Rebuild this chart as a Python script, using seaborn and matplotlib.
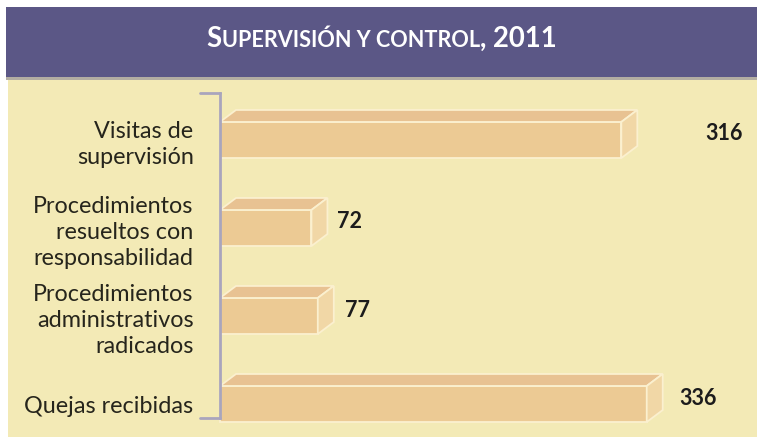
import matplotlib
matplotlib.use("Agg")
import matplotlib.pyplot as plt
import seaborn as sns
from matplotlib.patches import Rectangle, Polygon

# data
categories = ["Visitas de\nsupervisión",
              "Procedimientos\nresueltos con\nresponsabilidad",
              "Procedimientos\nadministrativos\nradicados",
              "Quejas recibidas"]
values = [316, 72, 77, 336]
title_parts = ["S", "UPERVISIÓN Y CONTROL", ", 2011"]

W, H, DPI = 757, 445, 100

purple = "#5b5786"
beige = "#f3eab6"
front = "#ecca94"
top_c = "#e8c292"
side_c = "#f1d7a6"
cream = "#fbf0cf"
spine_c = "#a9a5bd"
text_c = "#26251c"

sns.set_theme(style="white")
plt.rcParams["font.family"] = ["Lato", "DejaVu Sans"]

fig = plt.figure(figsize=(W / DPI, H / DPI), dpi=DPI)
fig.patch.set_facecolor("white")


def box(x, y, w, h):
    # pixel box with top-left origin -> figure fraction
    return [x / W, 1 - (y + h) / H, w / W, h / H]


def add_rect(x, y, w, h, color):
    b = box(x, y, w, h)
    fig.add_artist(Rectangle((b[0], b[1]), b[2], b[3], transform=fig.transFigure,
                             facecolor=color, edgecolor="none", zorder=0))


add_rect(6, 7, 751, 71, purple)
add_rect(6, 77, 751, 3, "#b3ada2")
add_rect(8, 80, 749, 357, beige)

ax = fig.add_axes(box(220, 93, 537, 325))
ax.patch.set_alpha(0)
sns.barplot(x=values, y=categories, orient="h", color=front, saturation=1,
            width=0.41, ax=ax)
ax.set_xlim(0, 537 / 1.27)
ax.set_ylim(3.159, -0.534)
ax.set_xticks([])
ax.set_xlabel("")
ax.set_ylabel("")
for s in ["top", "right", "bottom"]:
    ax.spines[s].set_visible(False)
ax.spines["left"].set_color(spine_c)
ax.spines["left"].set_linewidth(2)
ax.tick_params(axis="y", length=0, pad=19, labelsize=16.8, labelcolor=text_c)
for t in ax.get_yticklabels():
    t.set_linespacing(1.3)
for yy in [0, 1]:
    ax.plot([-20 / 537, 0], [yy, yy], transform=ax.transAxes, clip_on=False,
            color=spine_c, lw=2)

# 3d look on each bar
xl, yl = ax.get_xlim(), ax.get_ylim()
ux = (xl[1] - xl[0]) / 537
uy = abs(yl[0] - yl[1]) / 325
dx, dy = 16 * ux, 12 * uy
label_pad = [49, 7, 8, 12]
for p, v, pad in zip(ax.patches, values, label_pad):
    x0, y0, w, h = p.get_x(), p.get_y(), p.get_width(), p.get_height()
    p.set_edgecolor(cream)
    p.set_linewidth(1.3)
    p.set_clip_on(False)
    top = [(x0, y0), (x0 + dx, y0 - dy), (x0 + w + dx, y0 - dy), (x0 + w, y0)]
    side = [(x0 + w, y0), (x0 + w + dx, y0 - dy), (x0 + w + dx, y0 + h - dy),
            (x0 + w, y0 + h)]
    ax.add_patch(Polygon(top, closed=True, facecolor=top_c, edgecolor=cream,
                         lw=1.3, clip_on=False))
    ax.add_patch(Polygon(side, closed=True, facecolor=side_c, edgecolor=cream,
                         lw=1.3, clip_on=False))
    ax.annotate(str(v), xy=(x0 + w + dx, y0 + (h - dy) / 2), xytext=(pad, 0),
                textcoords="offset points", ha="left", va="center",
                fontsize=15.5, fontweight="bold", color="#1c1c1c",
                annotation_clip=False)

# small-caps style title
sizes = [19.8, 15.6, 19.8]
renderer = fig.canvas.get_renderer()
texts = []
widths = []
for part, sz in zip(title_parts, sizes):
    t = fig.text(0, 1 - 47 / H, part, fontsize=sz, fontweight="bold",
                 color="white", va="baseline", ha="left")
    texts.append(t)
    widths.append(t.get_window_extent(renderer).width)
x = (W + 6) / 2 - sum(widths) / 2
for t, w in zip(texts, widths):
    t.set_x(x / W)
    x += w

fig.savefig("out.png", dpi=DPI, facecolor="white")
